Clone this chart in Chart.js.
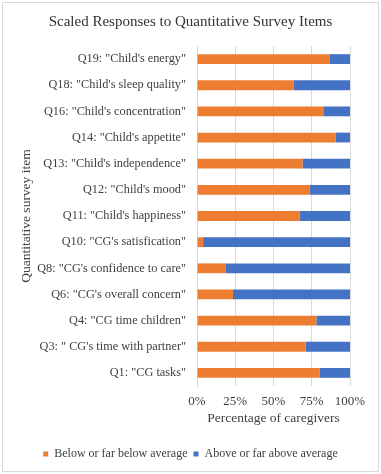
<!DOCTYPE html>
<html>
<head>
<meta charset="utf-8">
<script src="https://cdn.jsdelivr.net/npm/chart.js@4"></script>
<style>
  html, body { margin: 0; padding: 0; background: #fff; }
  #wrap { position: absolute; left: 2px; top: 2px; width: 377px; height: 470px; border: 1px solid #d9d9d9; box-sizing: border-box; }
  canvas { position: absolute; left: 0; top: 0; }
</style>
</head>
<body>
<div id="wrap"></div>
<canvas id="chart" width="381" height="474"></canvas>
<script>
// survey items, top to bottom
const items = [
  'Q19: "Child\'s energy"',
  'Q18: "Child\'s sleep quality"',
  'Q16: "Child\'s concentration"',
  'Q14: "Child\'s appetite"',
  'Q13: "Child\'s independence"',
  'Q12: "Child\'s mood"',
  'Q11: "Child\'s happiness"',
  'Q10: "CG\'s satisfication"',
  'Q8: "CG\'s confidence to care"',
  'Q6: "CG\'s overall concern"',
  'Q4: "CG time children"',
  'Q3: " CG\'s time with partner"',
  'Q1: "CG tasks"'
];
const belowAvg = [86.5, 63, 82.5, 90.5, 69, 73.5, 67, 4, 18.5, 23.5, 78, 71, 80];
const aboveAvg = [13.5, 37, 17.5, 9.5, 31, 26.5, 33, 96, 81.5, 76.5, 22, 29, 20];
const xTicks = [0, 25, 50, 75, 100];

const serif = "'Liberation Serif', 'Times New Roman', serif";
const textColor = '#404040';

new Chart(document.getElementById('chart').getContext('2d'), {
  type: 'bar',
  data: {
    labels: items,
    datasets: [{
      label: 'Below or far below average',
      data: belowAvg,
      backgroundColor: '#ED7D31'
    }, {
      label: 'Above or far above average',
      data: aboveAvg,
      backgroundColor: '#4472C4'
    }]
  },
  options: {
    indexAxis: 'y',
    responsive: false,
    animation: false,
    layout: { padding: { left: 31, right: 31, top: 8, bottom: 4 } },
    datasets: { bar: { barPercentage: 0.75, categoryPercentage: 0.5 } },
    scales: {
      x: {
        stacked: true,
        min: 0,
        max: 100,
        afterBuildTicks(scale) { scale.ticks = xTicks.map(v => ({ value: v })); },
        grid: { color: '#d9d9d9', drawTicks: false },
        border: { display: false },
        ticks: { color: textColor, font: { family: serif, size: 13 }, padding: 8, callback: v => v + '%' },
        title: { display: true, text: 'Percentage of caregivers', color: textColor, font: { family: serif, size: 13.5 }, padding: { top: 0, bottom: 15 } },
        afterFit(scale) { scale.height = 56; }
      },
      y: {
        stacked: true,
        grid: { display: false },
        border: { color: '#d9d9d9' },
        ticks: { color: textColor, font: { family: serif, size: 12.3 }, padding: 3 },
        title: { display: true, text: 'Quantitative survey item', color: textColor, font: { family: serif, size: 13.5 }, padding: { top: -13, bottom: 0 } },
        afterFit(scale) { scale.width = 166; }
      }
    },
    plugins: {
      title: {
        display: true,
        text: 'Scaled Responses to Quantitative Survey Items',
        color: '#333',
        font: { family: serif, size: 15, weight: 'normal' },
        padding: { top: 5, bottom: 15 }
      },
      legend: {
        position: 'bottom',
        labels: { color: textColor, font: { family: serif, size: 12 }, boxWidth: 5, boxHeight: 5, padding: 6 }
      },
      tooltip: { enabled: false }
    }
  }
});
</script>
</body>
</html>
